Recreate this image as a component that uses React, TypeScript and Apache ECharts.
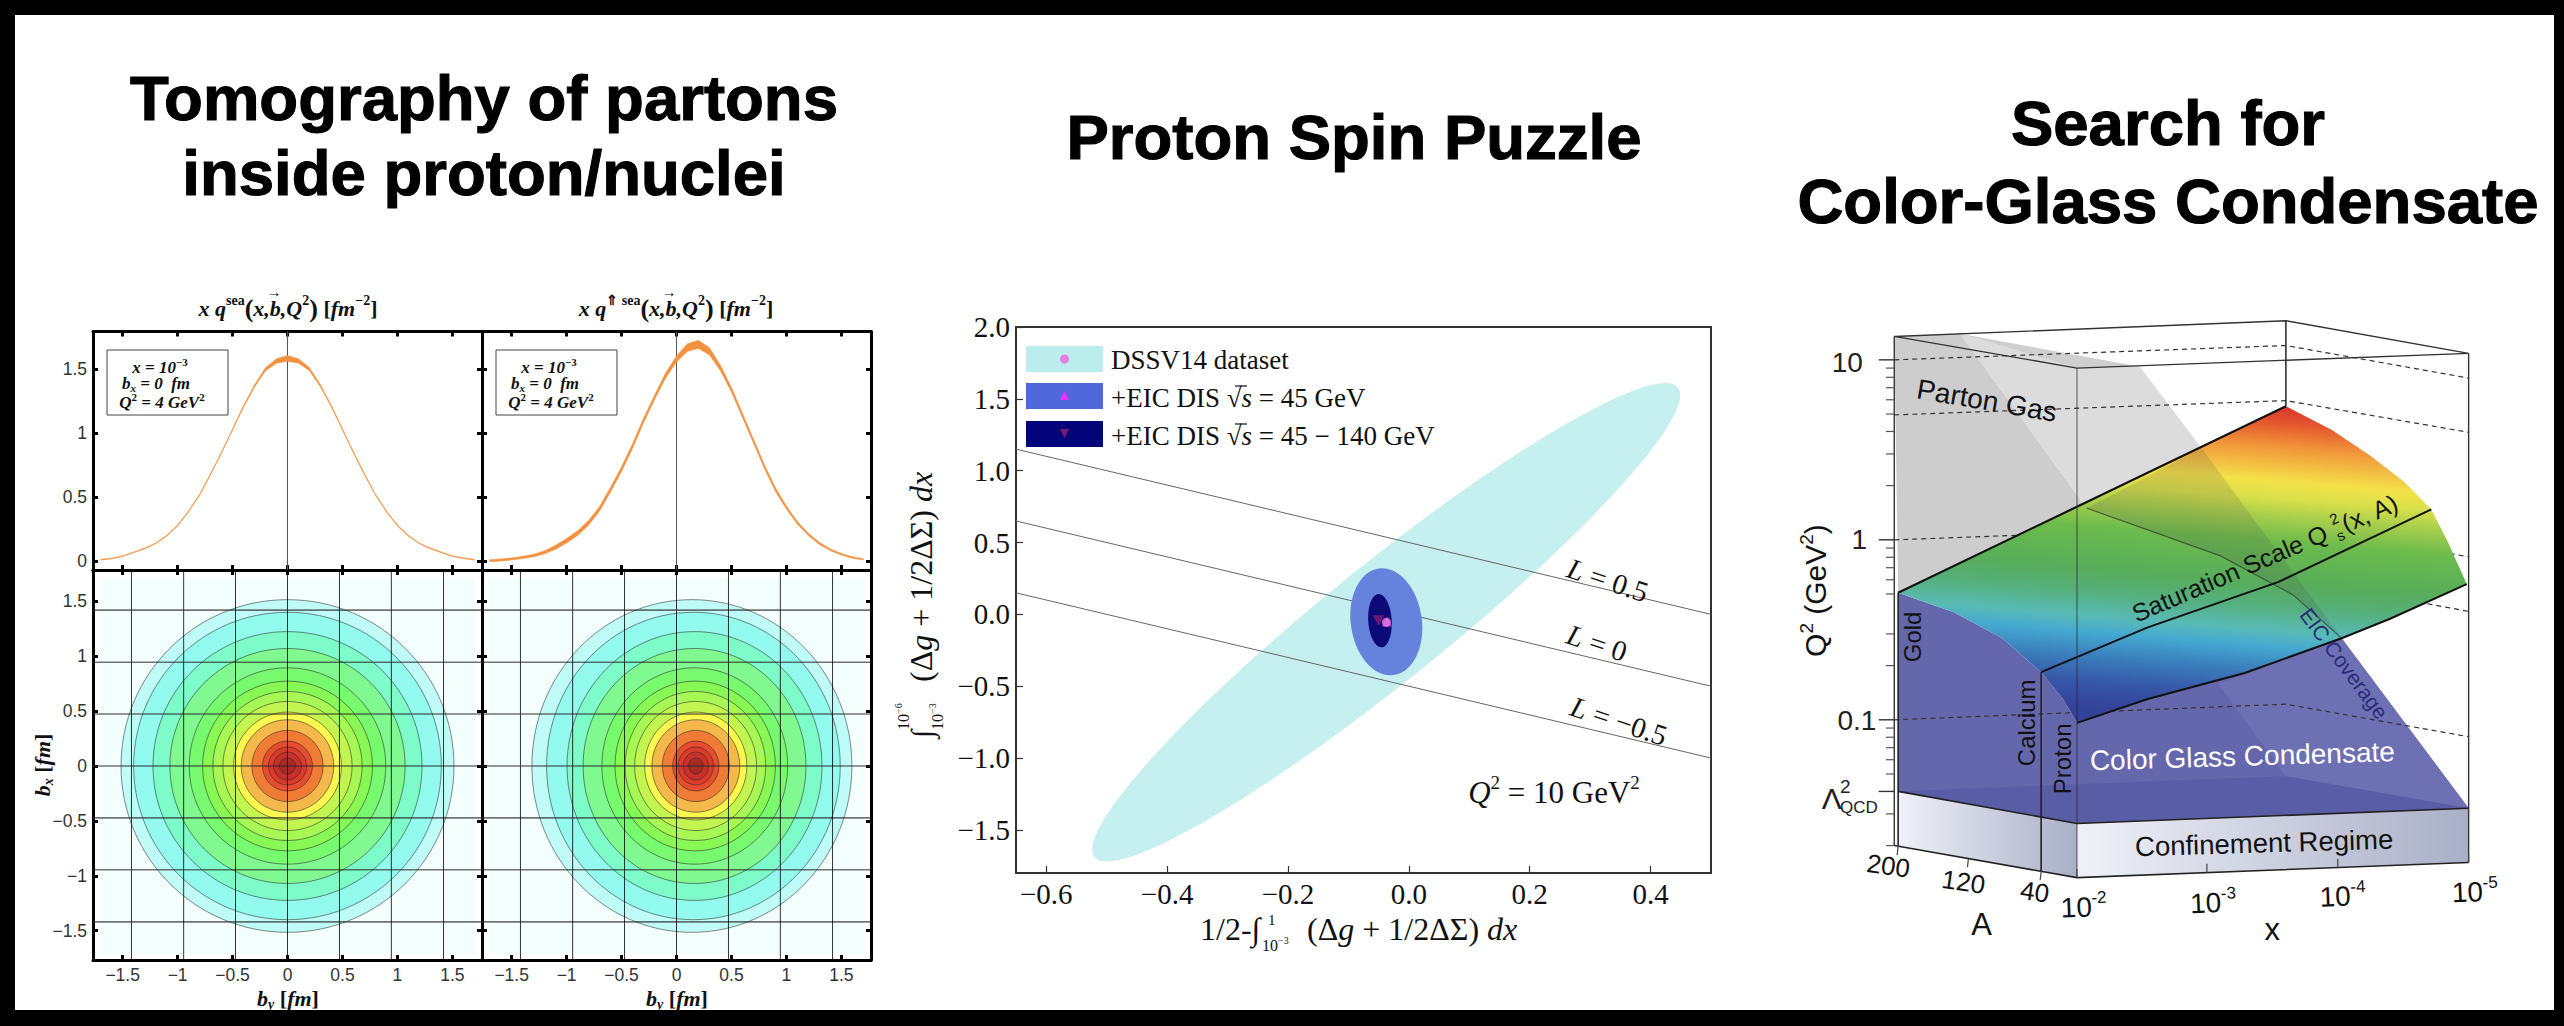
import React, { useEffect, useRef } from "react";
import * as echarts from "echarts";

// ---------- Panel 1: parton tomography ----------
const bGrid = [-1.7,-1.6,-1.5,-1.4,-1.3,-1.2,-1.1,-1,-0.9,-0.8,-0.7,-0.6,-0.5,-0.4,-0.3,-0.2,-0.1,0,0.1,0.2,0.3,0.4,0.5,0.6,0.7,0.8,0.9,1,1.1,1.2,1.3,1.4,1.5,1.6,1.7];
const unpolarised = [0.012,0.022,0.04,0.07,0.1,0.14,0.2,0.28,0.39,0.52,0.68,0.85,1.03,1.21,1.37,1.5,1.565,1.585,1.565,1.5,1.37,1.21,1.03,0.85,0.68,0.52,0.39,0.28,0.2,0.14,0.1,0.07,0.04,0.025,0.012];
const unpolarisedSpread = [0.003,0.003,0.003,0.003,0.003,0.003,0.004,0.004,0.004,0.005,0.005,0.005,0.006,0.007,0.009,0.012,0.018,0.022,0.018,0.012,0.009,0.007,0.006,0.005,0.005,0.005,0.004,0.004,0.004,0.003,0.003,0.003,0.003,0.003,0.003];
const polarised = [0.005,0.01,0.018,0.03,0.045,0.07,0.11,0.16,0.22,0.3,0.41,0.56,0.72,0.9,1.1,1.28,1.45,1.58,1.67,1.695,1.64,1.51,1.34,1.14,0.94,0.74,0.56,0.42,0.3,0.21,0.14,0.09,0.055,0.03,0.015];
const polarisedSpread = [0.008,0.008,0.008,0.009,0.01,0.012,0.015,0.018,0.018,0.018,0.018,0.018,0.018,0.018,0.018,0.018,0.02,0.024,0.03,0.032,0.028,0.022,0.018,0.016,0.015,0.015,0.014,0.012,0.01,0.009,0.008,0.007,0.006,0.006,0.005];
const contourRadius = [1.515,1.4,1.224,1.07,0.894,0.773,0.679,0.588,0.491,0.421,0.324,0.227,0.173,0.127,0.073];
const polRadiusX = [1.456,1.336,1.16,1.014,0.845,0.73,0.64,0.555,0.465,0.4,0.305,0.21,0.16,0.115,0.065];
const polCentreX = [0.14,0.154,0.164,0.164,0.166,0.17,0.172,0.174,0.175,0.176,0.176,0.176,0.176,0.176,0.176];
const contourColors = ["#BFFBF7","#92FBEE","#7DFBC8","#7FF990","#78FA6E","#88F855","#A8F855","#C3F550","#F9F84F","#F5B84A","#EF7B34","#E54D2E","#DC3B2A","#C8302A","#A82A22"];
const panelGridLines = [-1.42,-0.945,-0.473,0,0.473,0.945,1.42];
const xTicks = [-1.5,-1,-0.5,0,0.5,1,1.5];
const topYTicks = [0,0.5,1,1.5];
const bottomYTicks = [-1.5,-1,-0.5,0,0.5,1,1.5];

// ---------- Panel 2: spin puzzle ----------
const spinXTicks = [-0.6,-0.4,-0.2,0,0.2,0.4];
const spinYTicks = [-1.5,-1,-0.5,0,0.5,1,1.5,2];
const dssvAxis = [-0.52,-1.69,0.445,1.58,0.157];
const eic45Axis = [-0.0496,0.32,-0.0248,-0.4224,0.66];
const eic140Axis = [-0.0504,0.142,-0.0451,-0.229,0.44];
const lineEnds = [-0.65,0.5];
const lPlus = [1.15,0];
const lZero = [0.65,-0.5];
const lMinus = [0.15,-1.0];
const dssvPoint = [-0.037,-0.055];
const eic45Point = [-0.036,-0.05];
const eic140Point = [-0.05,-0.045];

// ---------- Panel 3: saturation diagram, in units of a 1568×1568 drawing sheet ----------
const wallDark = [[277,84],[413,78],[674,480],[285,675]];
const topBand = [[413,78],[784,154],[654,157]];
const wallLight = [[413,78],[654,157],[784,154],[911,342],[674,480]];
const confinementLeft = [[285,1133],[654,1207],[654,1332],[285,1258]];
const confinementFront = [[654,1207],[1462,1172],[1462,1297],[654,1332]];
const violetLeft = [[285,675],[400,720],[500,780],[580,858],[625,920],[654,975],[654,1207],[285,1133]];
const violetRight = [[654,975],[800,920],[1000,860],[1200,780],[1462,1172],[654,1207]];
const violetFaint = [[945,885],[1200,780],[1462,1172],[1085,1098]];
const floorPoly = [[285,1133],[1085,1098],[1462,1172],[654,1207]];
const surface = [[285,675],[1085,245],[1180,300],[1260,360],[1330,420],[1385,483],[1420,560],[1458,655],[1300,735],[1200,780],[1000,860],[800,920],[654,975],[625,920],[580,858],[500,780],[400,720]];
const surfaceShade = [[911,342],[1200,780],[1100,680],[950,590],[800,530],[674,480]];
const coverageLine = [[674,480],[800,530],[950,590],[1100,680],[1200,780]];
const goldEdge = [[285,675],[1085,245]];
const calciumEdge = [[580,858],[800,755],[1070,650],[1385,483]];
const protonEdge = [[654,975],[800,920],[1000,860],[1200,780],[1300,735],[1458,655]];
const dash10 = [[277,138],[1085,105],[1462,180]];
const dash5 = [[277,265],[1085,232],[1462,305]];
const dash1 = [[277,553],[1085,520],[1462,592]];
const dashMid = [[1085,640],[1462,718]];
const dash01 = [[277,968],[1085,932],[1462,1007]];
const boxTop = [[277,84],[1085,48],[1462,123],[654,157],[277,84]];
const boxBack = [[1085,48],[1085,245]];
const boxRight = [[1462,123],[1462,1297]];
const boxLeft = [[277,84],[277,1258]];
const boxFront = [[654,157],[654,1332]];
const goldV = [[285,675],[285,1258]];
const calciumV = [[580,858],[580,1318]];
const floorLeft = [[277,1258],[654,1332],[1462,1297]];
const confineTop = [[285,1133],[654,1207],[1462,1172]];
const backFloor = [[285,1258],[1085,1225],[1462,1297]];
const q2Major = [10,1,0.1,0.04];
const q2Minor = [9,8,7,6,5,4,3,2,0.9,0.8,0.7,0.6,0.5,0.3,0.2,0.09,0.08,0.07,0.06,0.05,0.03,0.02];
const xDecadeTicks = [[654,1332],[922,1320],[1192,1309],[1462,1297]];
const aTicks = [[285,1260],[430,1288],[580,1318]];

const SERIF = "'Liberation Serif', serif";
const SANS = "'Liberation Sans', sans-serif";
const q2Sheet = (v: number) => 138 + 415 * Math.log10(10 / v);

const sx = (p: number) => 1760 + p / 2.063;
const sy = (p: number) => 300 + p / 2.306;

const minus = (s: string) => s.replace("-", "\u2212");

function label(text: string, x: number, y: number, o: any = {}) {
  return {
    type: "text", x, y, z: 100, rotation: o.rotation || 0, silent: true,
    style: {
      text, fontSize: o.size || 20, fontFamily: o.family || SANS, fontWeight: o.weight || "normal",
      fontStyle: o.italic ? "italic" : "normal", fill: o.color || "#111",
      stroke: o.stroke, lineWidth: o.strokeWidth,
      align: o.align || "center", verticalAlign: o.valign || "middle", rich: o.rich,
    },
  };
}

function richSet(size: number, family: string, weight = "normal", color = "#111") {
  const base = { fontSize: size, fontFamily: family, fontWeight: weight, fill: color, lineHeight: size * 1.25, verticalAlign: "middle" };
  const small = Math.round(size * 0.62);
  return {
    a: { ...base },
    i: { ...base, fontStyle: "italic" },
    u: { ...base, fontSize: small, lineHeight: small * 1.1, verticalAlign: "top" },
    d: { ...base, fontSize: small, lineHeight: small * 1.1, verticalAlign: "bottom" },
    di: { ...base, fontSize: small, lineHeight: small * 1.1, verticalAlign: "bottom", fontStyle: "italic" },
    big: { ...base, fontSize: Math.round(size * 1.2), lineHeight: size * 1.3 },
  };
}

const bi = (size: number) => richSet(size, SERIF, "bold");

function buildOption() {
  const frames = [
    { left: 93, top: 331.5, width: 389, height: 238.5, yMin: -0.068, yMax: 1.795, yTicks: topYTicks, showX: false, showY: true },
    { left: 482, top: 331.5, width: 389, height: 238.5, yMin: -0.068, yMax: 1.795, yTicks: topYTicks, showX: false, showY: false },
    { left: 93, top: 570, width: 389, height: 390, yMin: -1.767, yMax: 1.785, yTicks: bottomYTicks, showX: true, showY: true },
    { left: 482, top: 570, width: 389, height: 390, yMin: -1.767, yMax: 1.785, yTicks: bottomYTicks, showX: true, showY: false },
  ];
  const grid: any[] = frames.map((f) => ({ left: f.left, top: f.top, width: f.width, height: f.height, show: false }));
  grid.push({ left: 1016, top: 327, width: 695, height: 546, show: false });
  grid.push({ left: 1760, top: 300, width: 760, height: 680, show: false });

  const frameLine = { show: true, onZero: false, lineStyle: { color: "#000", width: 3 } };
  const xAxis: any[] = [];
  const yAxis: any[] = [];
  frames.forEach((f, i) => {
    const tick = (vals: number[]) => ({ show: true, inside: true, length: 5, lineStyle: { color: "#000", width: 3 }, customValues: vals });
    xAxis.push({
      type: "value", gridIndex: i, min: -1.77, max: 1.77, position: "bottom", axisLine: frameLine, axisTick: tick(xTicks), splitLine: { show: false },
      axisLabel: { show: f.showX, customValues: xTicks, margin: 6, fontSize: 17.5, fontFamily: SANS, color: "#333", formatter: (v: number) => minus(String(v)) },
    });
    xAxis.push({ type: "value", gridIndex: i, min: -1.77, max: 1.77, position: "top", axisLine: frameLine, axisTick: tick(xTicks), axisLabel: { show: false }, splitLine: { show: false } });
    yAxis.push({
      type: "value", gridIndex: i, min: f.yMin, max: f.yMax, position: "left", axisLine: frameLine, axisTick: tick(f.yTicks), splitLine: { show: false },
      axisLabel: { show: f.showY, customValues: f.yTicks, margin: 6, fontSize: 17.5, fontFamily: SANS, color: "#333", formatter: (v: number) => minus(String(v)) },
    });
    yAxis.push({ type: "value", gridIndex: i, min: f.yMin, max: f.yMax, position: "right", axisLine: frameLine, axisTick: tick(f.yTicks), axisLabel: { show: false }, splitLine: { show: false } });
  });

  const spinLine = { show: true, onZero: false, lineStyle: { color: "#333", width: 2 } };
  const spinTick = (vals: number[]) => ({ show: true, inside: true, length: 7, lineStyle: { color: "#333", width: 1.2 }, customValues: vals });
  xAxis.push({
    type: "value", gridIndex: 4, min: -0.65, max: 0.5, position: "bottom", axisLine: spinLine, axisTick: spinTick(spinXTicks), splitLine: { show: false },
    axisLabel: { customValues: spinXTicks, margin: 6, fontSize: 29, fontFamily: SERIF, color: "#111", formatter: (v: number) => minus(v.toFixed(1)) },
  });
  xAxis.push({ type: "value", gridIndex: 4, min: -0.65, max: 0.5, position: "top", axisLine: spinLine, axisTick: { show: false }, axisLabel: { show: false }, splitLine: { show: false } });
  yAxis.push({
    type: "value", gridIndex: 4, min: -1.8, max: 2, position: "left", axisLine: spinLine, axisTick: spinTick(spinYTicks), splitLine: { show: false },
    axisLabel: { customValues: spinYTicks, margin: 6, fontSize: 29, fontFamily: SERIF, color: "#111", formatter: (v: number) => minus(v.toFixed(1)) },
  });
  yAxis.push({ type: "value", gridIndex: 4, min: -1.8, max: 2, position: "right", axisLine: spinLine, axisTick: { show: false }, axisLabel: { show: false }, splitLine: { show: false } });

  xAxis.push({ type: "value", gridIndex: 5, min: 0, max: 1568, show: false, splitLine: { show: false } });
  yAxis.push({ type: "value", gridIndex: 5, min: 0, max: 1568, inverse: true, show: false, splitLine: { show: false } });

  const series: any[] = [];
  const onPanel = (i: number) => ({ xAxisIndex: i < 4 ? i * 2 : i === 4 ? 8 : 10, yAxisIndex: i < 4 ? i * 2 : i === 4 ? 8 : 10 });
  const line = (i: number, pts: number[][], color: string, width: number, z = 3) =>
    series.push({ type: "line", ...onPanel(i), data: pts, showSymbol: false, symbol: "none", lineStyle: { color, width }, silent: true, z, clip: true });

  const band = (i: number, mid: number[], spread: number[]) =>
    series.push({
      type: "custom", ...onPanel(i), coordinateSystem: "cartesian2d", silent: true, z: 4, data: [[0, 0]],
      renderItem: (_: any, api: any) => ({
        type: "polygon",
        shape: { points: [
          ...bGrid.map((b, k) => api.coord([b, mid[k] + spread[k]])),
          ...bGrid.map((b, k) => api.coord([b, mid[k] - spread[k]])).reverse(),
        ] },
        style: { fill: "#F4913F", stroke: "#F4913F", lineWidth: 0.5 },
      }),
    });
  line(0, [[0, -0.068], [0, 1.795]], "#555", 1);
  line(1, [[0, -0.068], [0, 1.795]], "#555", 1);
  band(0, unpolarised, unpolarisedSpread);
  band(1, polarised, polarisedSpread);

  const bgRect = (i: number) => series.push({
    type: "custom", ...onPanel(i), coordinateSystem: "cartesian2d", silent: true, z: 1, data: [[0, 0]],
    renderItem: (_: any, api: any) => {
      const a = api.coord([-1.71, 1.71]); const b = api.coord([1.71, -1.71]);
      return { type: "rect", shape: { x: a[0], y: a[1], width: b[0] - a[0], height: b[1] - a[1] }, style: { fill: "#F3FFFD" } };
    },
  });
  const contours = (i: number, cx: number[], rx: number[], ry: number[]) => series.push({
    type: "custom", ...onPanel(i), coordinateSystem: "cartesian2d", silent: true, z: 2,
    data: cx.map((c, k) => [c, 0, rx[k], ry[k]]),
    renderItem: (p: any, api: any) => {
      const c = api.coord([api.value(0), api.value(1)]);
      const e = api.coord([api.value(0) + api.value(2), api.value(1) + api.value(3)]);
      return { type: "ellipse", shape: { cx: c[0], cy: c[1], rx: Math.abs(e[0] - c[0]), ry: Math.abs(e[1] - c[1]) }, style: { fill: contourColors[p.dataIndex], stroke: "rgba(40,40,40,0.55)", lineWidth: 1 } };
    },
  });
  bgRect(2); bgRect(3);
  contours(2, contourRadius.map(() => 0), contourRadius, contourRadius);
  contours(3, polCentreX, polRadiusX, contourRadius);
  [2, 3].forEach((i) => panelGridLines.forEach((g) => {
    line(i, [[g, -1.767], [g, 1.785]], "rgba(0,0,0,0.8)", 1);
    line(i, [[-1.77, g], [1.77, g]], "rgba(40,40,40,0.65)", 1.6);
  }));

  const rotEllipse = (a: number[], fill: string, z: number) => series.push({
    type: "custom", ...onPanel(4), coordinateSystem: "cartesian2d", silent: true, z, data: [a],
    renderItem: (_: any, api: any) => {
      const p = api.coord([a[0], a[1]]); const q = api.coord([a[2], a[3]]);
      const dx = q[0] - p[0]; const dy = q[1] - p[1];
      const rx = Math.hypot(dx, dy) / 2;
      return { type: "ellipse", x: (p[0] + q[0]) / 2, y: (p[1] + q[1]) / 2, rotation: -Math.atan2(dy, dx), shape: { cx: 0, cy: 0, rx, ry: rx * a[4] }, style: { fill } };
    },
  });
  rotEllipse(dssvAxis, "#C6F0EF", 2);
  rotEllipse(eic45Axis, "#6582DC", 4);
  rotEllipse(eic140Axis, "#0B0B78", 5);
  [lPlus, lZero, lMinus].forEach((l) => series.push({
    type: "line", ...onPanel(4), data: lineEnds.map((x, k) => [x, l[k]]), symbol: "none", lineStyle: { color: "#666", width: 1 }, silent: true, z: 3,
  }));
  const marker = (pt: number[], symbol: string, size: number, color: string, rotate: number, z: number) =>
    series.push({ type: "scatter", ...onPanel(4), data: [pt], symbol, symbolSize: size, symbolRotate: rotate, itemStyle: { color }, silent: true, z });
  marker(eic140Point, "triangle", 11, "#8A1A78", 180, 6);
  marker(eic45Point, "triangle", 10, "#F030F0", 0, 7);
  marker(dssvPoint, "circle", 9, "#E880E0", 0, 8);

  // Panel 3 shapes, drawn back to front
  const surfaceFill = (api: any) => {
    const a = api.coord([1085, 245]); const b = api.coord([1033, 970]);
    return new echarts.graphic.LinearGradient(a[0], a[1], b[0], b[1], [
      { offset: 0, color: "#D8342B" }, { offset: 0.06, color: "#E55A2F" }, { offset: 0.13, color: "#F0963A" },
      { offset: 0.24, color: "#F3E24A" }, { offset: 0.295, color: "#D6E04A" }, { offset: 0.35, color: "#A8CE4C" },
      { offset: 0.43, color: "#6CBB4D" }, { offset: 0.56, color: "#57AD5A" }, { offset: 0.64, color: "#55B080" },
      { offset: 0.71, color: "#5ABBB5" }, { offset: 0.765, color: "#45A8D0" }, { offset: 0.84, color: "#3A7EBB" },
      { offset: 0.92, color: "#3757A8" }, { offset: 1, color: "#33439A" },
    ], true);
  };
  const fade = () => new echarts.graphic.LinearGradient(0, 0, 1, 0, [{ offset: 0, color: "#F0F1F8" }, { offset: 1, color: "#A9AFC6" }]);
  const drawing: any[] = [
    { pts: wallDark, fill: "#CDCDCD" },
    { pts: wallLight, fill: "#DCDCDC" },
    { pts: topBand, fill: "#CFCFCF" },
    { pts: dash10, stroke: "#333", lw: 1.2, dash: [5, 4] },
    { pts: dash5, stroke: "#333", lw: 1.2, dash: [5, 4] },
    { pts: dash1, stroke: "#333", lw: 1.2, dash: [5, 4] },
    { pts: dashMid, stroke: "#333", lw: 1.2, dash: [5, 4] },
    { pts: backFloor, stroke: "#8A8FA8", lw: 1 },
    { pts: boxBack, stroke: "#222", lw: 1.5 },
    { pts: confinementLeft, fillFn: fade },
    { pts: confinementFront, fillFn: fade },
    { pts: violetLeft, fill: "#6467AB" },
    { pts: violetRight, fill: "#6467AB" },
    { pts: violetFaint, fill: "#6D70B2" },
    { pts: floorPoly, fill: "#595DA5" },
    { pts: dash01, stroke: "#333", lw: 1.2, dash: [5, 4] },
    { pts: surface, fillFn: surfaceFill },
    { pts: surfaceShade, fill: "rgba(70,70,70,0.16)" },
    { pts: coverageLine, stroke: "rgba(40,40,40,0.6)", lw: 1.2 },
    { pts: goldEdge, stroke: "#111", lw: 2.2 },
    { pts: calciumEdge, stroke: "#111", lw: 2 },
    { pts: protonEdge, stroke: "#111", lw: 2 },
    { pts: boxTop, stroke: "#333", lw: 1.4 },
    { pts: boxRight, stroke: "#333", lw: 1.4 },
    { pts: boxLeft, stroke: "#333", lw: 1.4 },
    { pts: boxFront, stroke: "rgba(40,40,40,0.55)", lw: 1.4 },
    { pts: goldV, stroke: "#222", lw: 1.6 },
    { pts: calciumV, stroke: "#222", lw: 1.6 },
    { pts: floorLeft, stroke: "#222", lw: 1.6 },
    { pts: confineTop, stroke: "#222", lw: 1.6 },
  ];
  q2Major.forEach((v) => drawing.push({ pts: [[245, q2Sheet(v)], [277, q2Sheet(v)]], stroke: "#333", lw: 1.4 }));
  q2Minor.forEach((v) => drawing.push({ pts: [[260, q2Sheet(v)], [277, q2Sheet(v)]], stroke: "#555", lw: 1.2 }));
  xDecadeTicks.forEach((t) => drawing.push({ pts: [t, [t[0], t[1] - 20]], stroke: "#444", lw: 1.2 }));
  aTicks.forEach((t) => drawing.push({ pts: [t, [t[0] - 2, t[1] + 20]], stroke: "#444", lw: 1.2 }));
  series.push({
    type: "custom", ...onPanel(5), coordinateSystem: "cartesian2d", silent: true, z: 2, clip: false,
    data: drawing.map((_, k) => [k, k]),
    renderItem: (p: any, api: any) => {
      const d = drawing[p.dataIndex];
      const points = d.pts.map((q: number[]) => api.coord(q));
      if (d.fill || d.fillFn) {
        return { type: "polygon", shape: { points }, style: { fill: d.fillFn ? d.fillFn(api) : d.fill } };
      }
      return { type: "polyline", shape: { points }, style: { fill: "none", stroke: d.stroke, lineWidth: d.lw, lineDash: d.dash } };
    },
  });

  // Text and frame
  const g: any[] = [];
  [[0, 0, 2564, 15], [0, 1010, 2564, 16], [0, 0, 15, 1026], [2554, 0, 10, 1026]].forEach(([x, y, w, h]) =>
    g.push({ type: "rect", z: 200, silent: true, shape: { x, y, width: w, height: h }, style: { fill: "#000" } }));

  const head = { size: 63.5, weight: "bold", color: "#000", stroke: "#000", strokeWidth: 1.1 };
  g.push(label("Tomography of partons", 484, 98, head));
  g.push(label("inside proton/nuclei", 484, 173, head));
  g.push(label("Proton Spin Puzzle", 1354, 137, head));
  g.push(label("Search for", 2168, 123, head));
  g.push(label("Color-Glass Condensate", 2168, 201, head));

  g.push(label("{i|x q}{u|sea}{big|(}{i|x,b,Q}{u|2}{big|)} {a|[}{i|fm}{u|\u22122}{a|]}", 288, 308, { rich: bi(22) }));
  g.push(label("{i|x q}{u|\u21D1 sea}{big|(}{i|x,b,Q}{u|2}{big|)} {a|[}{i|fm}{u|\u22122}{a|]}", 676, 308, { rich: bi(22) }));
  g.push(label("\u2192", 274, 292, { size: 15, family: SERIF, weight: "bold" }));
  g.push(label("\u2192", 669, 292, { size: 15, family: SERIF, weight: "bold" }));
  [288, 677].forEach((x) => g.push(label("{i|b}{di|y} {a|[}{i|fm}{a|]}", x, 998, { rich: bi(22) })));
  g.push(label("{i|b}{di|x} {a|[}{i|fm}{a|]}", 42, 765, { rich: bi(22), rotation: Math.PI / 2 }));

  [107, 496].forEach((x) => {
    g.push({ type: "rect", z: 100, silent: true, shape: { x, y: 350, width: 121, height: 65 }, style: { fill: "#fff", stroke: "#444", lineWidth: 1 } });
    g.push(label("{i|x = 10}{u|\u22123}", x + 53, 367, { rich: bi(17) }));
    g.push(label("{i|b}{di|x}{i| = 0  fm}", x + 49, 383, { rich: bi(17) }));
    g.push(label("{i|Q}{u|2}{i| = 4 GeV}{u|2}", x + 55, 402, { rich: bi(17) }));
  });

  // Panel 2 legend and labels
  const legendRows = [[346, "#BBEDEC", 26], [383, "#4F69DC", 26], [421, "#03037A", 26]];
  legendRows.forEach(([y, fill, h]) => g.push({ type: "rect", z: 100, silent: true, shape: { x: 1026, y, width: 77, height: h }, style: { fill } }));
  g.push({ type: "circle", z: 101, silent: true, shape: { cx: 1064.5, cy: 359, r: 4.5 }, style: { fill: "#E680E0" } });
  g.push({ type: "polygon", z: 101, silent: true, shape: { points: [[1064.5, 391], [1069, 400], [1060, 400]] }, style: { fill: "#F030F0" } });
  g.push({ type: "polygon", z: 101, silent: true, shape: { points: [[1060, 429], [1069, 429], [1064.5, 438]] }, style: { fill: "#7A1A78" } });
  const legendRich = richSet(27, SERIF);
  g.push(label("DSSV14 dataset", 1111, 360, { size: 27, family: SERIF, align: "left" }));
  g.push(label("{a|+EIC DIS \u221A}{i|s}{a| = 45 GeV}", 1111, 398, { rich: legendRich, align: "left" }));
  g.push(label("{a|+EIC DIS \u221A}{i|s}{a| = 45 \u2212 140 GeV}", 1111, 436, { rich: legendRich, align: "left" }));
  [386, 424].forEach((y) => g.push({ type: "line", z: 101, silent: true, shape: { x1: 1235, y1: y, x2: 1247, y2: y }, style: { stroke: "#111", lineWidth: 1.2 } }));
  const mathRich = richSet(31, SERIF);
  const lRich = richSet(29, SERIF);
  g.push(label("{i|L}{a| = 0.5}", 1608, 580, { rich: lRich, rotation: -0.32 }));
  g.push(label("{i|L}{a| = 0}", 1597, 643, { rich: lRich, rotation: -0.32 }));
  g.push(label("{i|L}{a| = \u22120.5}", 1619, 721, { rich: lRich, rotation: -0.32 }));
  g.push(label("{i|Q}{u|2}{a| = 10 GeV}{u|2}", 1554, 792, { rich: mathRich }));

  const group = (parts: any[], x: number, y: number, rotation: number) => g.push({ type: "group", x, y, rotation, z: 100, silent: true, children: parts });
  const integrand = "{a|(\u0394}{i|g}{a| + 1/2\u0394\u03A3) }{i|dx}";
  group([
    label("1/2-\u222B", 0, 0, { size: 32, family: SERIF, align: "left" }),
    label("1", 68, -9, { size: 15, family: SERIF, align: "left" }),
    label("{a|10}{u|\u22123}", 62, 16, { rich: richSet(16, SERIF), align: "left" }),
    label(integrand, 107, 0, { rich: richSet(32, SERIF), align: "left" }),
  ], 1200, 929, 0);
  group([
    label("\u222B", 0, 0, { size: 30, family: SERIF, align: "left" }),
    label("{a|10}{u|\u22126}", 8, -18, { rich: richSet(16, SERIF), align: "left" }),
    label("{a|10}{u|\u22123}", 8, 16, { rich: richSet(16, SERIF), align: "left" }),
    label(integrand, 56, 0, { rich: richSet(32, SERIF), align: "left" }),
  ], 921, 738, Math.PI / 2);

  // Panel 3 labels
  const s3 = (text: string, px: number, py: number, o: any = {}) => g.push(label(text, sx(px), sy(py), { size: 27, color: "#111", ...o }));
  s3("Parton Gas", 468, 232, { size: 28, rotation: -0.17 });
  group([
    label("Saturation Scale Q", 0, 0, { size: 25, align: "left" }),
    label("2", 218, -9, { size: 15, align: "left" }),
    label("s", 218, 9, { size: 15, align: "left" }),
    label("(x, A)", 228, 0, { size: 25, align: "left" }),
  ], sx(770), sy(725), 0.405);
  s3("Color Glass Condensate", 995, 1052, { color: "#fff", size: 28, rotation: 0.03 });
  s3("Confinement Regime", 1040, 1252, { size: 27.5, rotation: 0.03 });
  s3("Gold", 315, 777, { size: 24, rotation: Math.PI / 2 });
  s3("Calcium", 550, 975, { size: 24, rotation: Math.PI / 2 });
  s3("Proton", 625, 1058, { size: 24, rotation: Math.PI / 2 });
  s3("EIC Coverage", 1205, 838, { size: 21, color: "#2B2B78", rotation: -0.93 });
  s3("{a|Q}{u|2}{a| (GeV}{u|2}{a|)}", 115, 670, { rich: richSet(30, SANS), rotation: Math.PI / 2 });
  s3("10", 180, 143, { size: 28, color: "#222" });
  s3("1", 205, 553, { size: 28, color: "#222" });
  s3("0.1", 200, 970, { size: 28, color: "#222" });
  s3("\u039B", 148, 1150, { size: 30, color: "#222" });
  s3("2", 176, 1122, { size: 19, color: "#222" });
  s3("QCD", 204, 1170, { size: 17, color: "#222" });
  s3("200", 265, 1305, { size: 26, rotation: -0.14 });
  s3("120", 420, 1342, { size: 26, rotation: -0.14 });
  s3("40", 567, 1365, { size: 26, rotation: -0.14 });
  s3("A", 457, 1440, { size: 31 });
  s3("x", 1057, 1452, { size: 31 });
  const tenRich = richSet(28, SANS);
  s3("{a|10}{u|-2}", 668, 1400, { rich: tenRich, rotation: 0.04 });
  s3("{a|10}{u|-3}", 935, 1390, { rich: tenRich, rotation: 0.04 });
  s3("{a|10}{u|-4}", 1202, 1375, { rich: tenRich, rotation: 0.04 });
  s3("{a|10}{u|-5}", 1475, 1365, { rich: tenRich, rotation: 0.04 });

  return { animation: false, backgroundColor: "#fff", tooltip: { show: false }, legend: { show: false }, grid, xAxis, yAxis, series, graphic: g };
}

export default function App() {
  const ref = useRef<HTMLDivElement>(null);
  useEffect(() => {
    document.body.style.margin = "0";
    const chart = echarts.init(ref.current!, undefined, { renderer: "svg" });
    chart.setOption(buildOption() as any);
    return () => chart.dispose();
  }, []);
  return <div ref={ref} style={{ position: "absolute", left: 0, top: 0, width: 2564, height: 1026 }} />;
}
